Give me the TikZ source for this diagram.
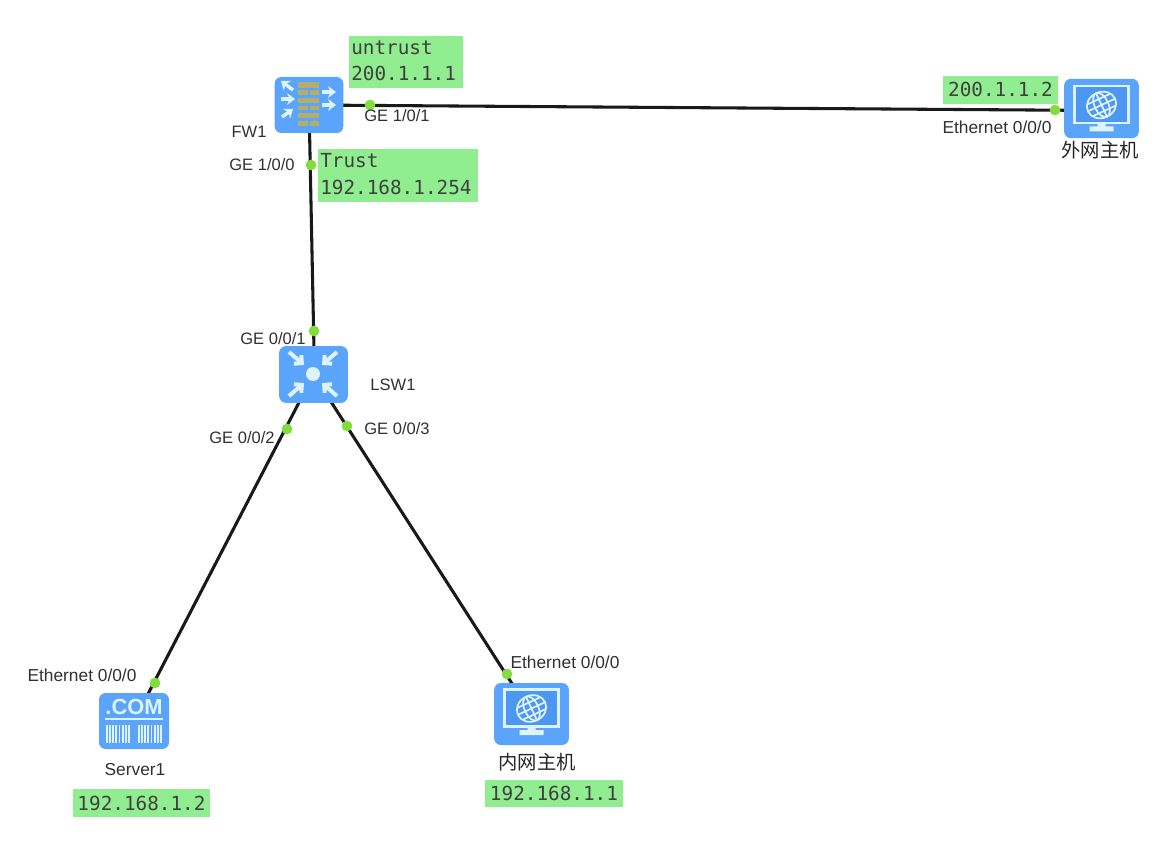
\documentclass[tikz,border=0pt]{standalone}
\usepackage{fontspec}
\setmainfont{Liberation Sans}
\newfontfamily\labelmono{DejaVu Sans Mono}
\newfontfamily\cjkfont{Noto Sans CJK SC}
\usetikzlibrary{arrows.meta,backgrounds,calc}
\definecolor{iconblue}{HTML}{5AA5FB}
\definecolor{screenblue}{HTML}{4C97F2}
\definecolor{glyph}{HTML}{DDF3FF}
\definecolor{brick}{HTML}{B4AE6E}
\definecolor{tagfill}{HTML}{90EE90}
\definecolor{portdot}{HTML}{82DC3C}
\definecolor{inktext}{HTML}{303038}
\tikzset{
  icon/.style={fill=iconblue,rounded corners=5pt,minimum width=#1,inner sep=0pt,outer sep=0pt},
  link/.style={line width=2.3pt,black!90},
  port/.style={circle,fill=portdot,minimum size=8pt,inner sep=0pt},
  portlabel/.style={font=\fontsize{12.4}{14}\selectfont,text=inktext,inner sep=0pt},
  ethlabel/.style={font=\fontsize{13}{14}\selectfont,text=inktext,inner sep=0pt},
  tag/.style={fill=tagfill,inner sep=0pt,font=\fontsize{14.5}{18.75}\labelmono,text=black!75,anchor=north west},
  tagtext/.style={font=\fontsize{14.5}{18.75}\labelmono,text=black!75,inner sep=0pt,anchor=west},
  hostname/.style={font=\fontsize{14.5}{17}\cjkfont,text=black!85,inner sep=0pt},
  wbar/.style={glyph,line width=2.2pt},
  warrow/.style={glyph,line width=2.6pt,-{Stealth[length=6pt,width=9pt]}},
  wbarb/.style={glyph,line width=3pt,-{Straight Barb[length=5pt,width=11pt,angle=90:6pt]}},
  brickcell/.style={fill=brick,draw=none}
}
\newcommand{\monitorglyph}{%
  \draw[glyph,line width=2.2pt,fill=screenblue] (-27,-22.5) rectangle (27,14.5);
  \fill[glyph] (-4,14.5) rectangle (4,19) (-12,18) rectangle (12,23);
  \begin{scope}[shift={(0,-3.5)},rotate=25,glyph,line width=1.3pt]
    \draw (0,0) ellipse (15 and 13);
    \draw (0,0) ellipse (7 and 13);
    \draw (0,-13) -- (0,13) (-15,0) -- (15,0) (-13,-6.5) -- (13,-6.5) (-13,6.5) -- (13,6.5);
  \end{scope}
}
\begin{document}
\begin{tikzpicture}[x=0.75pt,y=-0.75pt]
\useasboundingbox (0,0) rectangle (1175,841);

% devices
\node[icon=51.5pt,minimum height=42pt] (fw) at (309,105) {};
\node[icon=51.5pt,minimum height=42.5pt] (lsw) at (313.5,374.5) {};
\node[icon=52.5pt,minimum height=42pt] (srv) at (134,721) {};
\node[icon=56pt,minimum height=46.5pt] (hostin) at (531.5,714) {};
\node[icon=56pt,minimum height=44.5pt] (hostout) at (1101.5,108.5) {};

% links
\begin{scope}[on background layer]
  \fill[white] (0,0) rectangle (1175,841);
  \draw[link] (fw.center) -- ($(hostout.center)+(0,2)$);
  \draw[link] (fw.center) -- ($(lsw.center)+(1,0)$);
  \draw[link] (lsw.center) -- (srv.center);
  \draw[link] (lsw.center) -- (hostin.center);
\end{scope}

% firewall glyph
\begin{scope}[shift={(309,105)}]
  \fill[brickcell] (-11,-23) rectangle (10,-17);
  \fill[brickcell] (-11,-15) rectangle (-1,-10) (1,-15) rectangle (10,-10);
  \fill[brickcell] (-11,-7) rectangle (10,-2);
  \fill[brickcell] (-11,1) rectangle (-1,5) (1,1) rectangle (10,5);
  \fill[brickcell] (-11,8) rectangle (10,13);
  \fill[brickcell] (-11,16) rectangle (-1,21) (1,16) rectangle (10,21);
  \draw[warrow] (-16,-15) -- (-28,-24);
  \draw[warrow] (-28,-6) -- (-14,-6);
  \draw[warrow] (-27,12) -- (-16,4);
  \draw[warrow] (13,-13) -- (27,-13);
  \draw[warrow] (13,0) -- (27,0);
\end{scope}

% switch glyph
\begin{scope}[shift={(313,374)}]
  \fill[glyph] (0,0) circle (7);
  \draw[wbarb] (-24,-22) -- (-9,-9);
  \draw[wbarb] (24,-22) -- (9,-9);
  \draw[wbarb] (-24,22) -- (-9,9);
  \draw[wbarb] (24,22) -- (9,9);
\end{scope}

% server glyph
\node[font=\fontsize{16.4}{18}\selectfont\bfseries,text=glyph,inner sep=0pt] (comtext) at (134,707) {.COM};
\begin{scope}[shift={(134,721)}]
  \draw[wbar,line width=1.6pt] (-29,-2) -- (29,-2);
  \foreach \bx in {-27,-24,-21,-18,-14.5,-11,-8,-5}{\draw[glyph,line width=1.1pt] (\bx,4) -- (\bx,22);}
  \foreach \bx in {5,8,11,14,17.5,21,24,27}{\draw[glyph,line width=1.1pt] (\bx,4) -- (\bx,22);}
\end{scope}

% host glyphs
\begin{scope}[shift={(531.5,712)}]\monitorglyph\end{scope}
\begin{scope}[shift={(1101.5,108.5)}]\monitorglyph\end{scope}

% green tags
\fill[tagfill] (349,36) rectangle (463,88);
\fill[tagfill] (318,149) rectangle (478,202);
\node[tag,minimum width=86.25pt,minimum height=21pt] (tagout) at (943,76) {};
\node[tag,minimum width=102.75pt,minimum height=21pt] (tagsrv) at (73,789) {};
\node[tag,minimum width=103.5pt,minimum height=20.25pt] (taghost) at (485,780) {};
\node[tagtext] (t1a) at (351,48) {untrust};
\node[tagtext] (t1b) at (351,73) {200.1.1.1};
\node[tagtext] (t2a) at (320,161) {Trust};
\node[tagtext] (t2b) at (320,187) {192.168.1.254};
\node[tagtext,anchor=center] (t3) at (1000.5,89) {200.1.1.2};
\node[tagtext,anchor=center] (t4) at (141.5,803) {192.168.1.2};
\node[tagtext,anchor=center] (t5) at (554,793.5) {192.168.1.1};

% ports
\node[port] (p1) at (370,105) {};
\node[port] (p2) at (1055,110) {};
\node[port] (p3) at (311,165) {};
\node[port] (p4) at (314,331) {};
\node[port] (p5) at (287,429) {};
\node[port] (p6) at (347,426) {};
\node[port] (p7) at (155,683) {};
\node[port] (p8) at (507,674) {};

% labels
\node[portlabel] (l1) at (397,116) {GE 1/0/1};
\node[portlabel] (l2) at (262,165) {GE 1/0/0};
\node[portlabel] (l3) at (273,339) {GE 0/0/1};
\node[portlabel] (l4) at (242,438) {GE 0/0/2};
\node[portlabel] (l5) at (397,429) {GE 0/0/3};
\node[ethlabel] (l6) at (997,127) {Ethernet 0/0/0};
\node[ethlabel] (l7) at (82,675) {Ethernet 0/0/0};
\node[ethlabel] (l8) at (565,662) {Ethernet 0/0/0};
\node[portlabel] (n1) at (249,131.5) {FW1};
\node[portlabel] (n2) at (393,385) {LSW1};
\node[ethlabel] (n3) at (135,770) {Server1};
\node[hostname] (n4) at (1100,150) {外网主机};
\node[hostname] (n5) at (537,762) {内网主机};
\end{tikzpicture}
\end{document}
